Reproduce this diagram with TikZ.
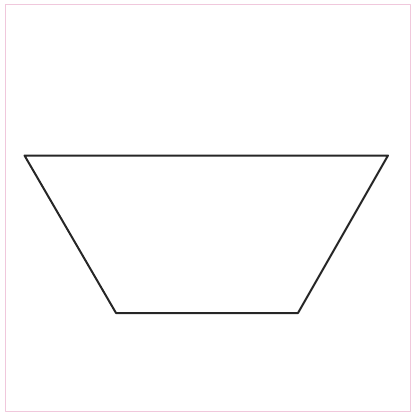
\documentclass[tikz,border=0pt]{standalone}
\definecolor{edgegray}{HTML}{262626}
\definecolor{framepink}{HTML}{F0C8DC}
\begin{document}
\begin{tikzpicture}[x=1pt, y=-1pt, line join=round]
  \useasboundingbox (0,0) rectangle (412,412);
  \draw[framepink, line width=0.8pt] (5,4.5) rectangle (410.5,411);

  \coordinate (tl) at (24.5,155.5);
  \coordinate (tr) at (388,155.5);
  \coordinate (br) at (298,313);
  \coordinate (bl) at (116,313);

  \draw[edgegray, line width=2pt] (tl) -- (tr) -- (br) -- (bl) -- cycle;
\end{tikzpicture}
\end{document}
